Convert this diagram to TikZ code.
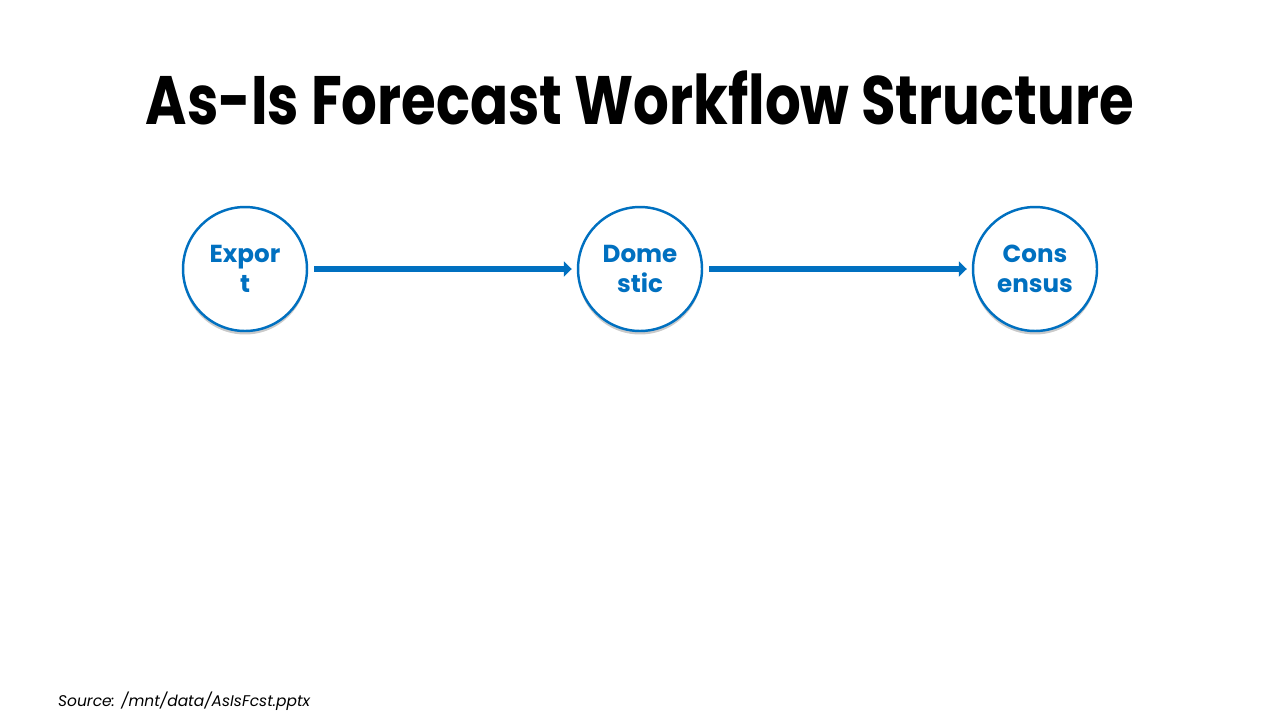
\documentclass[tikz,border=0pt]{standalone}
\usepackage{fontspec}
\setmainfont{Poppins}
\newfontfamily\titlefont[FakeStretch=0.82]{Poppins}
\usetikzlibrary{shadows,arrows.meta}
\definecolor{flowblue}{HTML}{0070C0}

\begin{document}
\begin{tikzpicture}[x=0.02cm,y=-0.02cm,
        stage/.style={circle,draw=flowblue,line width=1.4pt,fill=white,minimum size=2.48cm,inner sep=0pt,
            text=flowblue,font=\fontsize{14}{17}\selectfont\bfseries,align=center,
            drop shadow={shadow xshift=0pt,shadow yshift=-0.07cm,opacity=0.35,fill=black!60}},
        flow/.style={-{Triangle[length=0.16cm,width=0.3cm]},draw=flowblue,line width=3.6pt,shorten <=0.12cm,shorten >=0.1cm}]
        \useasboundingbox(0,0)rectangle(1280,720);

        \node[font=\titlefont\fontsize{39}{46}\selectfont\bfseries](title)at(640,98){As-Is Forecast Workflow Structure};

        \node[stage](export)at(245,269){Expor\\t};
        \node[stage](domestic)at(640,269){Dome\\stic};
        \node[stage](consensus)at(1035,269){Cons\\ensus};

        \draw[flow](export)--(domestic);
        \draw[flow](domestic)--(consensus);

        \node[anchor=west,font=\fontsize{8.8}{11}\selectfont\itshape](source)at(52,701){Source: /mnt/data/AsIsFcst.pptx};
    \end{tikzpicture}
\end{document}
